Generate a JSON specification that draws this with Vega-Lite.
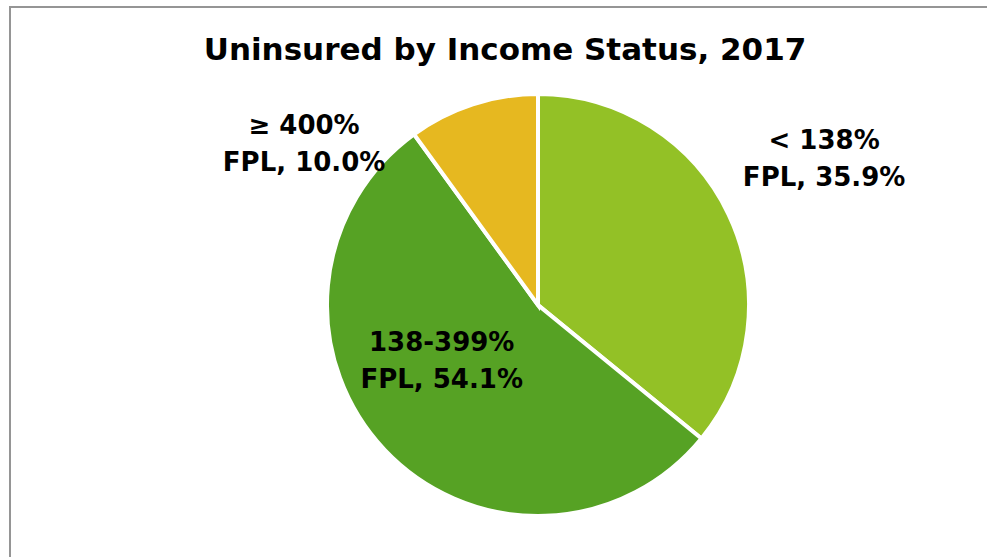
{
  "$schema": "https://vega.github.io/schema/vega-lite/v6.json",
  "width": 1056,
  "height": 596,
  "autosize": {"type": "none"},
  "padding": {"left": 10, "top": 7, "right": 0, "bottom": 0},
  "background": "white",
  "view": {"stroke": "#959595", "strokeWidth": 2, "fill": "white"},
  "config": {"view": {"stroke": "#959595", "strokeWidth": 2}, "font": "DejaVu Sans"},
  "title": {
    "text": "Uninsured by Income Status, 2017",
    "fontSize": 31,
    "fontWeight": "bold",
    "font": "DejaVu Sans",
    "color": "black",
    "anchor": "middle",
    "frame": "group",
    "offset": -80,
    "dx": -33,
    "dy": 26
  },
  "data": {
    "values": [
      {"group": "< 138% FPL", "label": "< 138%\nFPL, 35.9%", "pct": 35.9, "order": 1},
      {"group": "138-399% FPL", "label": "138-399%\nFPL, 54.1%", "pct": 54.1, "order": 2},
      {"group": "≥ 400% FPL", "label": "≥ 400%\nFPL, 10.0%", "pct": 10.0, "order": 3}
    ]
  },
  "encoding": {
    "theta": {"field": "pct", "type": "quantitative", "stack": true},
    "order": {"field": "order", "type": "quantitative"}
  },
  "layer": [
    {
      "mark": {"type": "arc", "outerRadius": 211, "stroke": "white", "strokeWidth": 4},
      "encoding": {
        "color": {
          "field": "group",
          "type": "nominal",
          "scale": {"domain": ["< 138% FPL", "138-399% FPL", "≥ 400% FPL"], "range": ["#93C126", "#56A224", "#E6B820"]},
          "legend": null
        }
      }
    },
    {
      "mark": {"type": "text", "radius": 320, "dx": -3, "dy": -27, "fontSize": 26, "fontWeight": "bold", "lineBreak": "\n", "lineHeight": 37, "color": "black", "align": "center", "baseline": "middle"},
      "encoding": {"text": {"condition": {"test": "datum.order == 1", "field": "label"}, "value": ""}}
    },
    {
      "mark": {"type": "text", "radius": 105, "dx": -20, "dy": -34, "fontSize": 26, "fontWeight": "bold", "lineBreak": "\n", "lineHeight": 37, "color": "black", "align": "center", "baseline": "middle"},
      "encoding": {"text": {"condition": {"test": "datum.order == 2", "field": "label"}, "value": ""}}
    },
    {
      "mark": {"type": "text", "radius": 168, "dx": -182, "dy": -19, "fontSize": 26, "fontWeight": "bold", "lineBreak": "\n", "lineHeight": 37, "color": "black", "align": "center", "baseline": "middle"},
      "encoding": {"text": {"condition": {"test": "datum.order == 3", "field": "label"}, "value": ""}}
    }
  ]
}
